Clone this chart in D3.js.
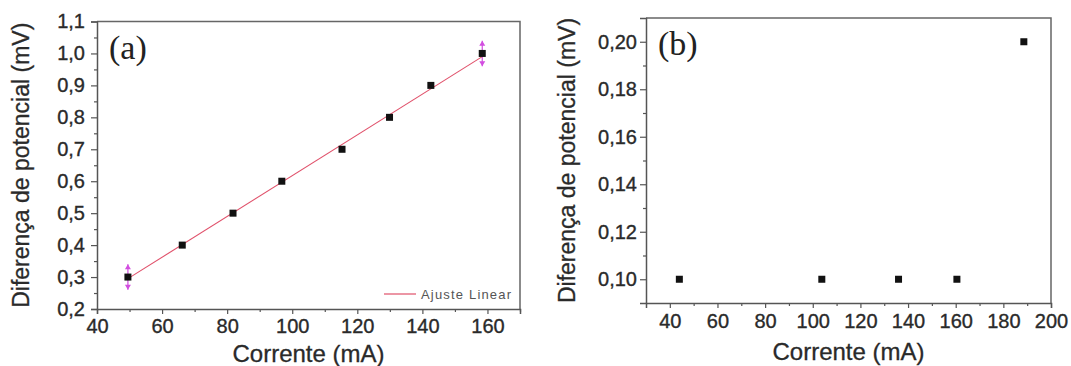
<!DOCTYPE html>
<html lang="pt">
<head>
<meta charset="utf-8">
<script src="https://d3js.org/d3.v7.min.js"></script>
<style>
body { margin: 0; background: #fff; }
svg { display: block; }
.tick text { font-family: "Liberation Sans", Arial, sans-serif; fill: #2a2a2a; stroke: #2a2a2a; stroke-width: 0.35; }
.domain { stroke: #555; stroke-width: 1.5; }
.tick line { stroke: #555; stroke-width: 1.2; }
.title { font-family: "Liberation Sans", Arial, sans-serif; fill: #2a2a2a; stroke: #2a2a2a; stroke-width: 0.3; }
.panel { font-family: "Liberation Serif", "Times New Roman", serif; fill: #222; }
</style>
</head>
<body>
<svg width="1071" height="366"></svg>
<script>
// panel (a)
var aCurrent = [49.5, 66.2, 81.8, 96.8, 115.3, 129.9, 142.6, 158.4];
var aVoltage = [0.3, 0.4, 0.5, 0.6, 0.7, 0.8, 0.9, 1.0];
var aError   = [0.04, 0, 0, 0, 0, 0, 0, 0.04];
var aFitX = [49.5, 158.4];
var aFitY = [0.295, 0.99];
var aXTicks = [40, 60, 80, 100, 120, 140, 160];
var aXMinor = [50, 70, 90, 110, 130, 150, 170];
var aYTicks = [0.2, 0.3, 0.4, 0.5, 0.6, 0.7, 0.8, 0.9, 1.0, 1.1];
var aYMinor = [0.25, 0.35, 0.45, 0.55, 0.65, 0.75, 0.85, 0.95, 1.05];

// panel (b)
var bCurrent = [44, 103.8, 136, 160.5, 188.6];
var bVoltage = [0.10, 0.10, 0.10, 0.10, 0.20];
var bXTicks = [40, 60, 80, 100, 120, 140, 160, 180, 200];
var bXMinor = [50, 70, 90, 110, 130, 150, 170, 190];
var bYTicks = [0.10, 0.12, 0.14, 0.16, 0.18, 0.20];
var bYMinor = [0.11, 0.13, 0.15, 0.17, 0.19];

var ptBR = d3.formatLocale({decimal: ",", thousands: ".", grouping: [3], currency: ["", ""]});

var svg = d3.select("svg");

function panel(opt) {
  var x = d3.scaleLinear().domain(opt.xDomain).range([opt.left, opt.right]);
  var y = d3.scaleLinear().domain(opt.yDomain).range([opt.bottom, opt.top]);
  var g = svg.append("g");

  // frame top / right
  g.append("path")
    .attr("d", "M" + opt.left + "," + opt.top + "H" + opt.right + "V" + opt.bottom)
    .attr("fill", "none").attr("stroke", "#666").attr("stroke-width", 1.5);

  // minor ticks
  g.append("g").attr("transform", "translate(0," + opt.bottom + ")")
    .call(d3.axisBottom(x).tickValues(opt.xMinor).tickSize(3).tickFormat(""))
    .select(".domain").remove();
  g.append("g").attr("transform", "translate(" + opt.left + ",0)")
    .call(d3.axisLeft(y).tickValues(opt.yMinor).tickSize(3).tickFormat(""))
    .select(".domain").remove();

  // major axes
  var xa = g.append("g").attr("transform", "translate(0," + opt.bottom + ")")
    .call(d3.axisBottom(x).tickValues(opt.xTicks).tickSizeOuter(0).tickSize(5).tickPadding(opt.xPad));
  xa.selectAll(".tick text").style("font-size", opt.tickFont + "px");
  var ya = g.append("g").attr("transform", "translate(" + opt.left + ",0)")
    .call(d3.axisLeft(y).tickValues(opt.yTicks).tickSizeOuter(0).tickSize(6).tickPadding(opt.yPad)
      .tickFormat(ptBR.format(opt.yFmt)));
  ya.selectAll(".tick text").style("font-size", opt.tickFont + "px");

  // titles
  g.append("text").attr("class", "title")
    .attr("x", (opt.left + opt.right) / 2).attr("y", opt.xTitleY)
    .attr("text-anchor", "middle").style("font-size", "24px")
    .text("Corrente (mA)");
  g.append("text").attr("class", "title")
    .attr("transform", "translate(" + opt.yTitleX + "," + ((opt.top + opt.bottom) / 2) + ") rotate(-90)")
    .attr("text-anchor", "middle").style("font-size", "23px")
    .text("Diferença de potencial (mV)");

  g.append("text").attr("class", "panel")
    .attr("x", opt.left + 12).attr("y", opt.top + 37)
    .style("font-size", "34px")
    .text(opt.label);

  return {x: x, y: y, g: g};
}

// ---- (a)
var pa = panel({
  xDomain: [40, 170], yDomain: [0.2, 1.1],
  left: 97, right: 520, top: 21.5, bottom: 309,
  xTicks: aXTicks, xMinor: aXMinor, yTicks: aYTicks, yMinor: aYMinor,
  yFmt: ".1f", tickFont: 20, xPad: 5, yPad: 6,
  xTitleY: 362, yTitleX: 29, label: "(a)"
});

var aData = aCurrent.map(function(d, i) { return {x: d, y: aVoltage[i], e: aError[i]}; });

// error bars (first / last points)
var eb = pa.g.selectAll(".err").data(aData.filter(function(d) { return d.e > 0; }))
  .enter().append("g").attr("class", "err");
eb.append("line")
  .attr("x1", function(d) { return pa.x(d.x); }).attr("x2", function(d) { return pa.x(d.x); })
  .attr("y1", function(d) { return pa.y(d.y + d.e); }).attr("y2", function(d) { return pa.y(d.y - d.e); })
  .attr("stroke", "#d24ee0").attr("stroke-width", 1.2);
eb.append("path")
  .attr("d", function(d) {
    var cx = pa.x(d.x), t = pa.y(d.y + d.e), b = pa.y(d.y - d.e);
    return "M" + (cx - 3) + "," + (t + 5) + "L" + cx + "," + t + "L" + (cx + 3) + "," + (t + 5) + "Z" +
           "M" + (cx - 3) + "," + (b - 5) + "L" + cx + "," + b + "L" + (cx + 3) + "," + (b - 5) + "Z";
  })
  .attr("fill", "#d24ee0");

// linear fit
pa.g.append("line")
  .attr("x1", pa.x(aFitX[0])).attr("y1", pa.y(aFitY[0]))
  .attr("x2", pa.x(aFitX[1])).attr("y2", pa.y(aFitY[1]))
  .attr("stroke", "#e0506a").attr("stroke-width", 1.1);

pa.g.selectAll(".pt").data(aData).enter().append("rect")
  .attr("x", function(d) { return pa.x(d.x) - 3.5; })
  .attr("y", function(d) { return pa.y(d.y) - 3.5; })
  .attr("width", 7).attr("height", 7).attr("fill", "#111");

// legend
pa.g.append("line").attr("x1", 384).attr("x2", 416).attr("y1", 294).attr("y2", 294)
  .attr("stroke", "#e0506a").attr("stroke-width", 1.2);
pa.g.append("text").attr("x", 421).attr("y", 298.5)
  .style("font-family", "'Liberation Sans', Arial, sans-serif").style("font-size", "13px")
  .attr("fill", "#555").attr("textLength", 90)
  .text("Ajuste Linear");

// ---- (b)
var pb = panel({
  xDomain: [30, 200], yDomain: [0.09, 0.21],
  left: 646, right: 1051, top: 18, bottom: 303,
  xTicks: bXTicks, xMinor: bXMinor, yTicks: bYTicks, yMinor: bYMinor,
  yFmt: ".2f", tickFont: 20, xPad: 6, yPad: 3,
  xTitleY: 360, yTitleX: 575, label: "(b)"
});

pb.g.selectAll(".pt").data(bCurrent.map(function(d, i) { return {x: d, y: bVoltage[i]}; }))
  .enter().append("rect")
  .attr("x", function(d) { return pb.x(d.x) - 3.5; })
  .attr("y", function(d) { return pb.y(d.y) - 3.5; })
  .attr("width", 7).attr("height", 7).attr("fill", "#111");
</script>
</body>
</html>
